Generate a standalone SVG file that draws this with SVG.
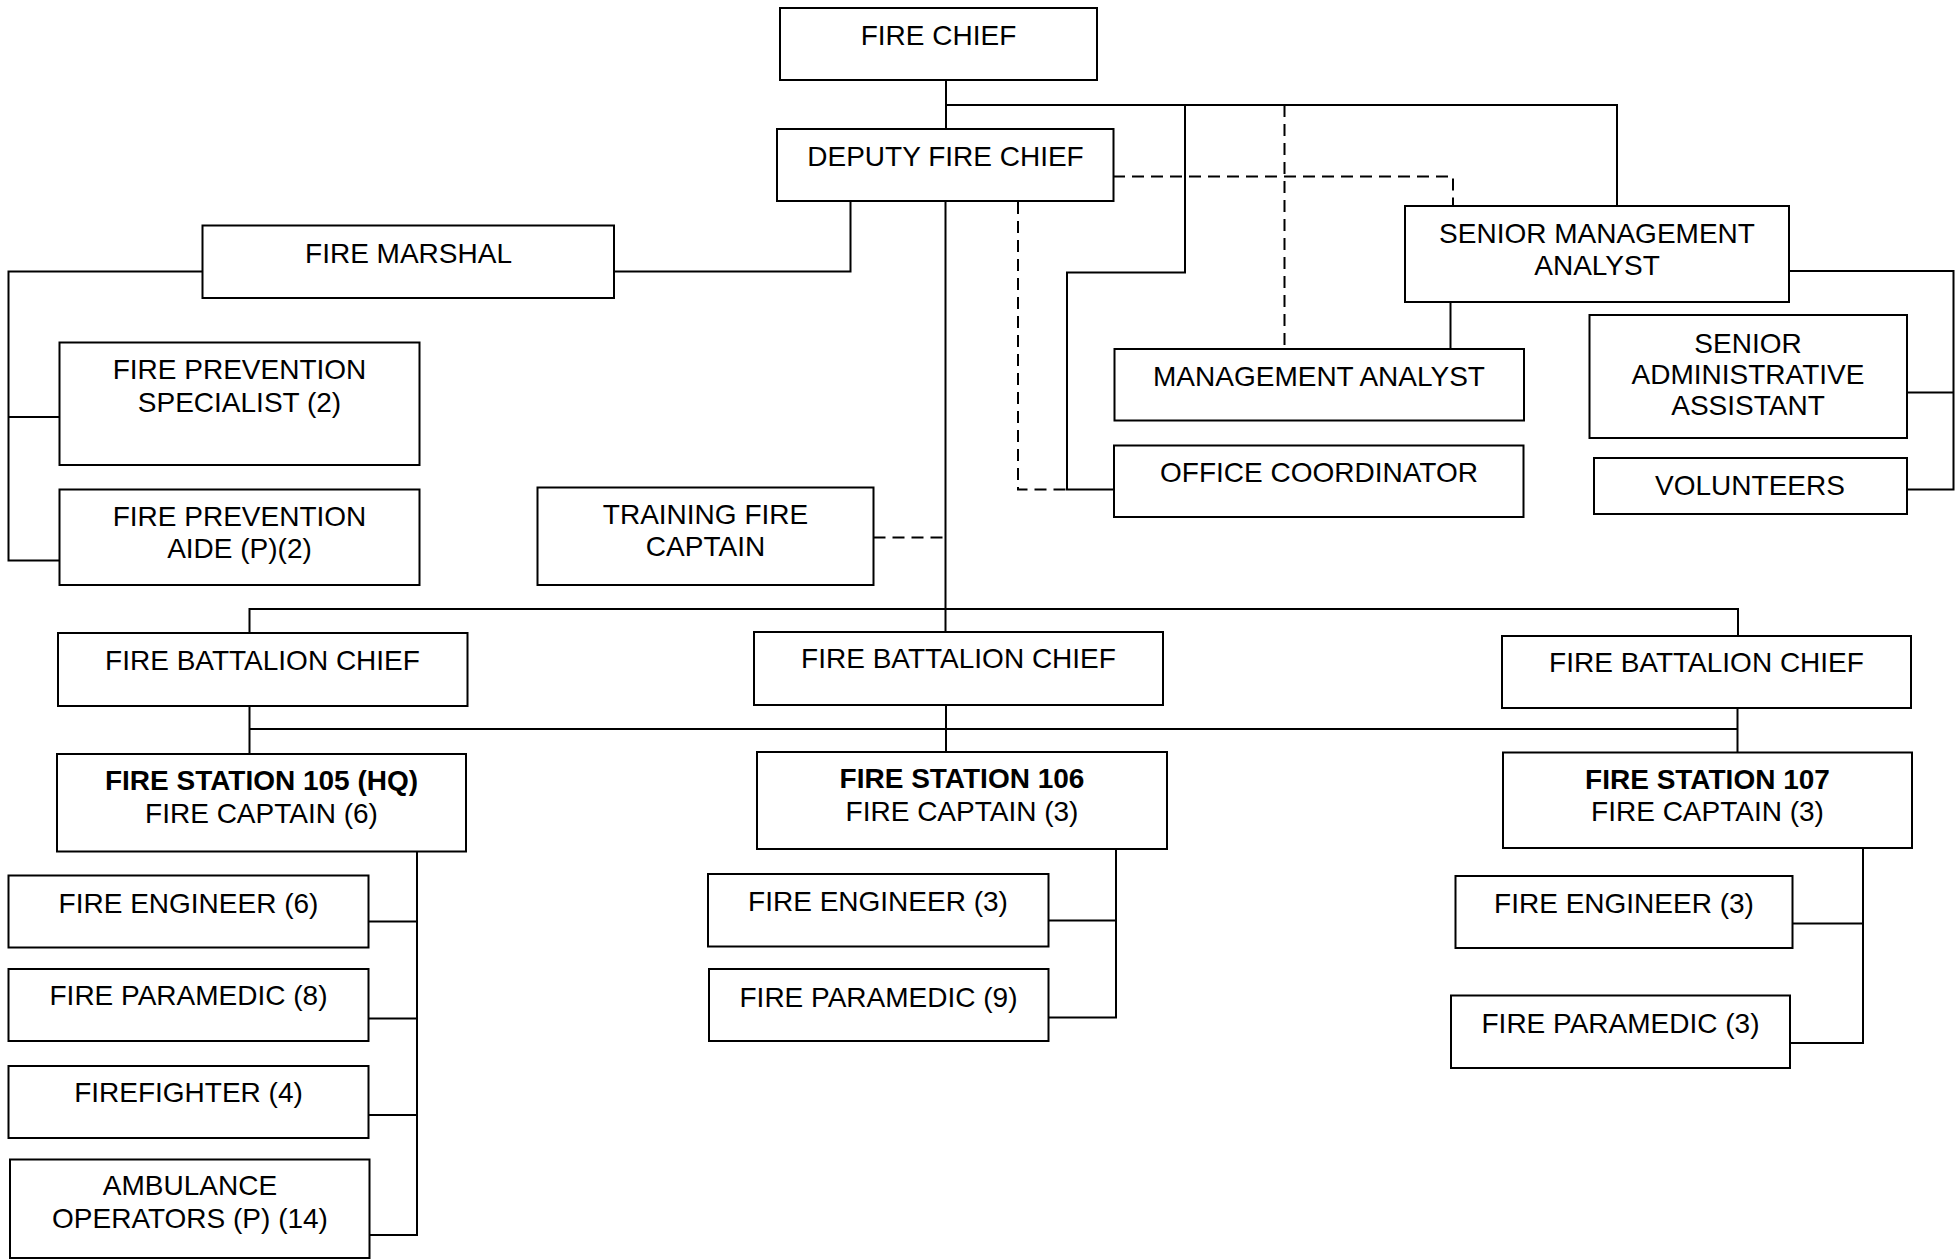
<svg xmlns="http://www.w3.org/2000/svg" width="1955" height="1259" viewBox="0 0 1955 1259">
  <style>
    .box { fill: #ffffff; stroke: #000000; stroke-width: 2; }
    .lbl { font-family: "Liberation Sans", Arial, sans-serif; font-size: 28px; fill: #000000; text-anchor: middle; }
    .bold { font-weight: bold; }
    .link { fill: none; stroke: #000000; stroke-width: 2; }
    .dash { fill: none; stroke: #000000; stroke-width: 2; stroke-dasharray: 12 7; }
  </style>
  <rect width="1955" height="1259" fill="#ffffff"/>

  <!-- reporting lines -->
  <g id="connectors">
    <!-- chief to deputy and top bus -->
    <path class="link" d="M946 80 V129"/>
    <path class="link" d="M946 105 H1617 V206"/>
    <path class="link" d="M1185 105 V272.5 H1067 V489.5 H1114"/>
    <path class="dash" d="M1284.5 105 V349"/>
    <path class="dash" d="M1113 176.5 H1453 V206"/>
    <path class="dash" d="M1018 202 V489.5 H1067"/>
    <!-- fire marshal branch -->
    <path class="link" d="M850.5 201 V271.5 H614"/>
    <path class="link" d="M202.5 271.5 H8.5 V560.5 H60"/>
    <path class="link" d="M8.5 417 H60"/>
    <!-- main trunk -->
    <path class="link" d="M945.5 202 V632"/>
    <path class="dash" d="M873.5 537.5 H945.5"/>
    <!-- battalion chiefs -->
    <path class="link" d="M249.5 633 V609 H1738 V636"/>
    <!-- stations -->
    <path class="link" d="M249.5 706 V754"/>
    <path class="link" d="M946 705 V752"/>
    <path class="link" d="M1737.5 708 V753"/>
    <path class="link" d="M249.5 729 H1737.5"/>
    <!-- station 105 crews -->
    <path class="link" d="M417 852 V1235 H369"/>
    <path class="link" d="M368 921.5 H417"/>
    <path class="link" d="M368 1018.5 H417"/>
    <path class="link" d="M368 1115 H417"/>
    <!-- station 106 crews -->
    <path class="link" d="M1116 849 V1017.5 H1048"/>
    <path class="link" d="M1048 920.5 H1116"/>
    <!-- station 107 crews -->
    <path class="link" d="M1863 848 V1043 H1790"/>
    <path class="link" d="M1792 923.5 H1863"/>
    <!-- senior management analyst staff -->
    <path class="link" d="M1450.5 302 V349"/>
    <path class="link" d="M1789 271 H1953.5 V489.5 H1907"/>
    <path class="link" d="M1907 392.5 H1953.5"/>
  </g>

  <g id="fire-chief">
    <rect class="box" x="780" y="8" width="317" height="72"/>
    <text class="lbl" x="938.5" y="45">FIRE CHIEF</text>
  </g>
  <g id="deputy-fire-chief">
    <rect class="box" x="777" y="129" width="336.5" height="72"/>
    <text class="lbl" x="945.5" y="165.5">DEPUTY FIRE CHIEF</text>
  </g>
  <g id="fire-marshal">
    <rect class="box" x="202.5" y="225.5" width="411.5" height="72.5"/>
    <text class="lbl" x="408.5" y="262.5">FIRE MARSHAL</text>
  </g>
  <g id="senior-management-analyst">
    <rect class="box" x="1405" y="206" width="384" height="96"/>
    <text class="lbl"><tspan x="1597" y="242.5">SENIOR MANAGEMENT</tspan><tspan x="1597" y="274.5">ANALYST</tspan></text>
  </g>
  <g id="management-analyst">
    <rect class="box" x="1114.5" y="349" width="409.5" height="71.5"/>
    <text class="lbl" x="1319" y="386">MANAGEMENT ANALYST</text>
  </g>
  <g id="office-coordinator">
    <rect class="box" x="1114" y="445.5" width="409.5" height="71.5"/>
    <text class="lbl" x="1319" y="482">OFFICE COORDINATOR</text>
  </g>
  <g id="senior-administrative-assistant">
    <rect class="box" x="1589.5" y="315" width="317.5" height="123"/>
    <text class="lbl"><tspan x="1748" y="353">SENIOR</tspan><tspan x="1748" y="383.5">ADMINISTRATIVE</tspan><tspan x="1748" y="415">ASSISTANT</tspan></text>
  </g>
  <g id="volunteers">
    <rect class="box" x="1594" y="458" width="313" height="56"/>
    <text class="lbl" x="1750" y="494.5">VOLUNTEERS</text>
  </g>
  <g id="fire-prevention-specialist">
    <rect class="box" x="59.5" y="342.5" width="360" height="122.5"/>
    <text class="lbl"><tspan x="239.5" y="378.5">FIRE PREVENTION</tspan><tspan x="239.5" y="411.5">SPECIALIST (2)</tspan></text>
  </g>
  <g id="fire-prevention-aide">
    <rect class="box" x="59.5" y="489.5" width="360" height="95.5"/>
    <text class="lbl"><tspan x="239.5" y="526">FIRE PREVENTION</tspan><tspan x="239.5" y="557.5">AIDE (P)(2)</tspan></text>
  </g>
  <g id="training-fire-captain">
    <rect class="box" x="537.5" y="487.5" width="336" height="97.5"/>
    <text class="lbl"><tspan x="705.5" y="523.5">TRAINING FIRE</tspan><tspan x="705.5" y="555.5">CAPTAIN</tspan></text>
  </g>

  <g id="battalion-chief-1">
    <rect class="box" x="58" y="633" width="409.5" height="73"/>
    <text class="lbl" x="262.5" y="670">FIRE BATTALION CHIEF</text>
  </g>
  <g id="battalion-chief-2">
    <rect class="box" x="754" y="632" width="409" height="73"/>
    <text class="lbl" x="958.5" y="668">FIRE BATTALION CHIEF</text>
  </g>
  <g id="battalion-chief-3">
    <rect class="box" x="1502" y="636" width="409" height="72"/>
    <text class="lbl" x="1706.5" y="671.5">FIRE BATTALION CHIEF</text>
  </g>

  <g id="station-105">
    <rect class="box" x="57" y="754" width="409" height="97.5"/>
    <text class="lbl"><tspan class="bold" x="261.5" y="790">FIRE STATION 105 (HQ)</tspan><tspan x="261.5" y="823">FIRE CAPTAIN (6)</tspan></text>
  </g>
  <g id="station-106">
    <rect class="box" x="757" y="752" width="410" height="97"/>
    <text class="lbl"><tspan class="bold" x="962" y="788">FIRE STATION 106</tspan><tspan x="962" y="820.5">FIRE CAPTAIN (3)</tspan></text>
  </g>
  <g id="station-107">
    <rect class="box" x="1503" y="752.5" width="409" height="95.5"/>
    <text class="lbl"><tspan class="bold" x="1707.5" y="788.5">FIRE STATION 107</tspan><tspan x="1707.5" y="820.5">FIRE CAPTAIN (3)</tspan></text>
  </g>

  <g id="engineer-105">
    <rect class="box" x="8.5" y="875.5" width="360" height="72"/>
    <text class="lbl" x="188.5" y="912.5">FIRE ENGINEER (6)</text>
  </g>
  <g id="paramedic-105">
    <rect class="box" x="8.5" y="969" width="360" height="72"/>
    <text class="lbl" x="188.5" y="1005">FIRE PARAMEDIC (8)</text>
  </g>
  <g id="firefighter-105">
    <rect class="box" x="8.5" y="1066" width="360" height="72"/>
    <text class="lbl" x="188.5" y="1102">FIREFIGHTER (4)</text>
  </g>
  <g id="ambulance-105">
    <rect class="box" x="10" y="1159.5" width="359.5" height="98.5"/>
    <text class="lbl"><tspan x="190" y="1195">AMBULANCE</tspan><tspan x="190" y="1228">OPERATORS (P) (14)</tspan></text>
  </g>

  <g id="engineer-106">
    <rect class="box" x="708" y="874" width="340.5" height="72.5"/>
    <text class="lbl" x="878" y="911">FIRE ENGINEER (3)</text>
  </g>
  <g id="paramedic-106">
    <rect class="box" x="709" y="969" width="339.5" height="72"/>
    <text class="lbl" x="878.5" y="1006.5">FIRE PARAMEDIC (9)</text>
  </g>

  <g id="engineer-107">
    <rect class="box" x="1455.5" y="876" width="337" height="72"/>
    <text class="lbl" x="1624" y="913">FIRE ENGINEER (3)</text>
  </g>
  <g id="paramedic-107">
    <rect class="box" x="1451" y="995.5" width="339" height="72.5"/>
    <text class="lbl" x="1620.5" y="1032.5">FIRE PARAMEDIC (3)</text>
  </g>
</svg>
